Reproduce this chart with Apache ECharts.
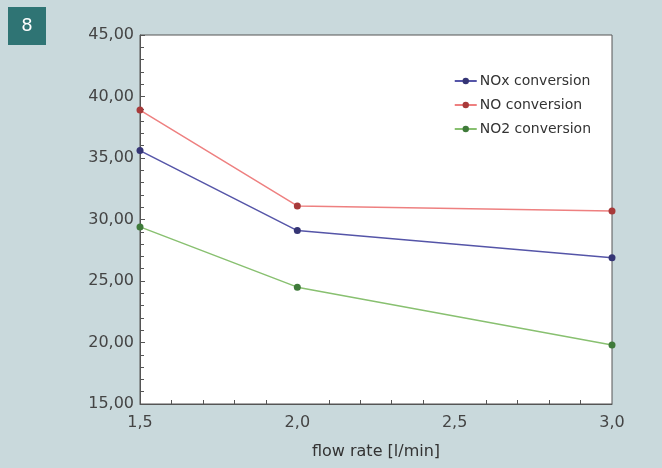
<!DOCTYPE html>
<html>
<head>
<meta charset="utf-8">
<script src="https://cdn.jsdelivr.net/npm/echarts@6/dist/echarts.min.js"></script>
<style>
  html, body { margin:0; padding:0; background:#c9d9dc; }
  #main { width:662px; height:468px; }
</style>
</head>
<body>
<div id="main"></div>
<script>
// flow rate (l/min)
var flowRates = [1.5, 2.0, 3.0];
var seriesNames = ['NOx conversion', 'NO conversion', 'NO2 conversion'];
var noxValues = [35.6, 29.1, 26.9];
var noValues = [38.9, 31.1, 30.7];
var no2Values = [29.4, 24.5, 19.8];

function pairs(vals){
  return flowRates.map(function(x, i){ return [x, vals[i]]; });
}

var chart = echarts.init(document.getElementById('main'));

function lineSeries(name, vals, lineColor, dotColor){
  return {
    name: name,
    type: 'line',
    data: pairs(vals),
    symbol: 'circle',
    symbolSize: 7,
    lineStyle: { color: lineColor, width: 1.5 },
    itemStyle: { color: dotColor },
    emphasis: { disabled: true }
  };
}

var option = {
  backgroundColor: '#c9d9dc',
  animation: false,
  textStyle: { fontFamily: 'DejaVu Sans' },
  graphic: [
    { type:'rect', shape:{ x:8, y:7, width:38, height:38 }, style:{ fill:'#2f7474' } },
    { type:'text', x:27, y:26, style:{ text:'8', fill:'#fff', font:'18px DejaVu Sans', align:'center', verticalAlign:'middle' } }
  ],
  grid: {
    left: 140, right: 50, top: 35, bottom: 64,
    show: true, backgroundColor: '#ffffff', borderColor: '#555', borderWidth: 1
  },
  legend: {
    orient: 'vertical',
    right: 66, top: 69,
    itemWidth: 22, itemHeight: 8, itemGap: 10,
    textStyle: { fontSize: 14, color: '#333', padding: [0, 0, 0, -2] },
    data: seriesNames
  },
  xAxis: {
    type: 'value',
    min: 1.5, max: 3.0, interval: 0.5,
    name: 'flow rate [l/min]',
    nameLocation: 'middle',
    nameGap: 40,
    nameTextStyle: { fontSize: 16, color: '#333' },
    axisLine: { lineStyle: { color: '#555' } },
    axisTick: { show: false, inside: true },
    minorTick: { show: true, splitNumber: 5, length: 4, lineStyle: { color: '#555' } },
    splitLine: { show: false },
    axisLabel: {
      fontSize: 16, color: '#444', margin: 11,
      formatter: function(v){ return v.toFixed(1).replace('.', ','); }
    }
  },
  yAxis: {
    type: 'value',
    min: 15, max: 45, interval: 5,
    axisLine: { show: true, lineStyle: { color: '#555' } },
    axisTick: { show: true, inside: true, length: 5, lineStyle: { color: '#555' } },
    minorTick: { show: true, splitNumber: 5, length: 4, lineStyle: { color: '#555' } },
    splitLine: { show: false },
    axisLabel: {
      fontSize: 16, color: '#444', margin: 6,
      formatter: function(v){ return v.toFixed(2).replace('.', ','); }
    }
  },
  series: [
    lineSeries(seriesNames[0], noxValues, '#5555a8', '#353575'),
    lineSeries(seriesNames[1], noValues, '#ee8080', '#a83a3a'),
    lineSeries(seriesNames[2], no2Values, '#88c070', '#3f7a3a')
  ]
};
chart.setOption(option);
</script>
</body>
</html>
